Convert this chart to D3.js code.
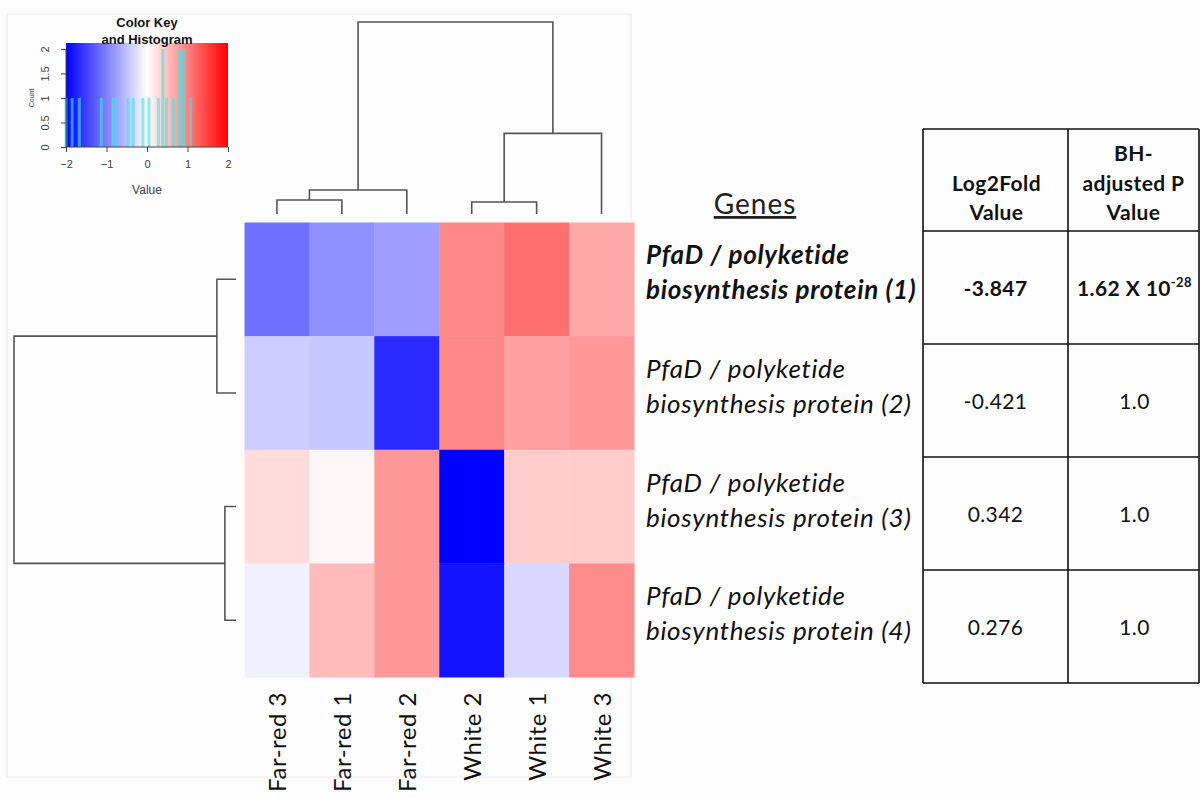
<!DOCTYPE html>
<html>
<head>
<meta charset="utf-8">
<script src="https://cdn.jsdelivr.net/npm/d3@7"></script>
<style>
  html, body { margin: 0; padding: 0; background: #fff; }
  svg { display: block; }
</style>
</head>
<body>
<div id="chart"></div>
<script>
// heatmap data (rows = genes, columns = samples, order as clustered)
const samples = ["Far-red 3", "Far-red 1", "Far-red 2", "White 2", "White 1", "White 3"];
const geneLines = [
    ["PfaD / polyketide", "biosynthesis protein (1)"],
    ["PfaD / polyketide", "biosynthesis protein (2)"],
    ["PfaD / polyketide", "biosynthesis protein (3)"],
    ["PfaD / polyketide", "biosynthesis protein (4)"]
];
const zValues = [
    [-1.12, -0.87, -0.75, 0.93, 1.12, 0.68],
    [-0.40, -0.44, -1.67, 0.93, 0.75, 0.81],
    [0.27, 0.06, 0.81, -2.0, 0.40, 0.40],
    [-0.12, 0.54, 0.81, -1.85, -0.31, 0.90]
];
const significantRow = 0;

// table values
const log2Fold = ["-3.847", "-0.421", "0.342", "0.276"];
const pAdjusted = ["1.62 X 10^-28", "1.0", "1.0", "1.0"];

// colour key histogram (value, count)
const histValues = [-2.0, -1.85, -1.67, -1.13, -0.84, -0.76, -0.47, -0.34, -0.10, 0.05, 0.28, 0.39, 0.48, 0.65, 0.80, 0.90, 1.08];
const histCounts = [1, 1, 1, 1, 1, 1, 1, 1, 1, 1, 1, 2, 1, 1, 2, 2, 1];
const keyTicksX = [-2, -1, 0, 1, 2];
const keyTicksY = [0, 0.5, 1, 1.5, 2];

// dendrograms: leaves are sample / row indexes, h = merge height (relative)
const colTree = { h: 1, children: [
    { h: 0.125, children: [{ h: 0.073, children: [0, 1] }, 2] },
    { h: 0.42, children: [{ h: 0.0625, children: [3, 4] }, 5] }
]};
const rowTree = { h: 1, children: [
    { h: 0.086, children: [0, 1] },
    { h: 0.05, children: [2, 3] }
]};

const width = 1200, height = 798;
const svg = d3.select("#chart").append("svg")
    .attr("width", width)
    .attr("height", height)
    .style("font-family", "Lato, 'Open Sans', sans-serif");

svg.append("rect").attr("width", width).attr("height", height).attr("fill", "#fdfdfd");

// faint frame round the R plot area
svg.append("rect")
    .attr("x", 7).attr("y", 14).attr("width", 624).attr("height", 763)
    .attr("fill", "none").attr("stroke", "#eeeeee");

const x = d3.scaleBand().domain(d3.range(samples.length)).range([244.5, 634]);
const y = d3.scaleBand().domain(d3.range(geneLines.length)).range([222.5, 677]);
const color = d3.scaleLinear().domain([-2, 0, 2]).range(["#0000ff", "#ffffff", "#ff0000"]);

// heatmap cells
const cells = zValues.flatMap((row, i) => row.map((v, j) => ({ i, j, v })));
svg.append("g").selectAll("rect")
    .data(cells)
    .join("rect")
    .attr("x", d => x(d.j))
    .attr("y", d => y(d.i))
    .attr("width", x.bandwidth() + 0.5)
    .attr("height", y.bandwidth() + 0.5)
    .attr("fill", d => color(d.v));

// column labels
svg.append("g").selectAll("text")
    .data(samples)
    .join("text")
    .attr("transform", (d, j) => `translate(${x(j) + x.bandwidth() / 2 + 9},692) rotate(-90)`)
    .attr("text-anchor", "end")
    .attr("fill", "#111")
    .style("font-size", "24px")
    .style("letter-spacing", "0.5px")
    .text(d => d);

// dendrogram helper
function drawDendro(tree, leafPos, heightScale, vertical) {
    const root = d3.hierarchy(tree, d => (typeof d === "object" ? d.children : null));
    root.eachAfter(n => {
        if (!n.children) { n.pos = leafPos(n.data); n.hh = 0; }
        else { n.pos = d3.mean(n.children, c => c.pos); n.hh = n.data.h; }
    });
    const paths = root.descendants().filter(n => n.children).map(n => {
        const [a, b] = n.children;
        const hn = heightScale(n.hh), ha = heightScale(a.hh), hb = heightScale(b.hh);
        if (vertical) return `M${a.pos},${ha}V${hn}H${b.pos}V${hb}`;
        return `M${ha},${a.pos}H${hn}V${b.pos}H${hb}`;
    });
    svg.append("g").selectAll("path")
        .data(paths)
        .join("path")
        .attr("d", d => d)
        .attr("fill", "none")
        .attr("stroke", "#555")
        .attr("stroke-width", 1.6);
}

const colH = d3.scaleLinear().domain([0, 1]).range([214, 22]);
drawDendro(colTree, j => x(j) + x.bandwidth() / 2, colH, true);
const rowH = d3.scaleLinear().domain([0, 1]).range([236, 14]);
drawDendro(rowTree, i => y(i) + y.bandwidth() / 2, rowH, false);

// gene labels
svg.append("text")
    .attr("x", 755).attr("y", 214)
    .attr("text-anchor", "middle")
    .attr("fill", "#222")
    .style("font-size", "28px")
    .style("letter-spacing", "1px")
    .style("text-decoration", "underline")
    .text("Genes");

const geneG = svg.append("g").selectAll("text")
    .data(geneLines)
    .join("text")
    .attr("x", 646)
    .attr("fill", "#111")
    .style("font-size", "26px")
    .style("letter-spacing", "0.7px")
    .style("font-style", "italic")
    .style("font-weight", (d, i) => i === significantRow ? "bold" : "normal");
geneG.append("tspan")
    .attr("x", 646)
    .attr("y", (d, i) => y(i) + y.bandwidth() / 2 - 15)
    .text(d => d[0]);
geneG.append("tspan")
    .attr("x", 646)
    .attr("y", (d, i) => y(i) + y.bandwidth() / 2 + 20)
    .text(d => d[1]);

// table
const tableX = [923, 1068, 1199];
const tableRows = d3.scaleBand().domain(d3.range(log2Fold.length)).range([231, 683]);
const tableTop = 129;
const tg = svg.append("g");
tableX.forEach(tx => tg.append("line")
    .attr("x1", tx).attr("x2", tx).attr("y1", tableTop).attr("y2", 683)
    .attr("stroke", "#111").attr("stroke-width", 1.6));
[tableTop, ...log2Fold.map((d, i) => tableRows(i)), 683].forEach(ty => tg.append("line")
    .attr("x1", tableX[0]).attr("x2", tableX[2]).attr("y1", ty).attr("y2", ty)
    .attr("stroke", "#111").attr("stroke-width", 1.6));

const c1 = (tableX[0] + tableX[1]) / 2, c2 = (tableX[1] + tableX[2]) / 2;
[["Log2Fold", 191], ["Value", 220]].forEach(([t, ty]) => tg.append("text")
    .attr("x", c1 + 1).attr("y", ty).attr("text-anchor", "middle")
    .style("font-size", "21px").style("letter-spacing", "0.4px")
    .style("font-weight", "bold").attr("fill", "#111").text(t));
[["BH-", 161], ["adjusted P", 191], ["Value", 220]].forEach(([t, ty]) => tg.append("text")
    .attr("x", c2).attr("y", ty).attr("text-anchor", "middle")
    .style("font-size", "21px").style("letter-spacing", "0.4px")
    .style("font-weight", "bold").attr("fill", "#111").text(t));

log2Fold.forEach((v, i) => {
    const ty = tableRows(i) + tableRows.bandwidth() / 2 + 8;
    const weight = i === significantRow ? "bold" : "normal";
    tg.append("text")
        .attr("x", c1).attr("y", ty).attr("text-anchor", "middle")
        .style("font-size", "21px").style("letter-spacing", "0.4px")
        .style("font-weight", weight).attr("fill", "#111").text(v);
    const [base, exp] = pAdjusted[i].split("^");
    const t = tg.append("text")
        .attr("x", c2 + 1).attr("y", ty).attr("text-anchor", "middle")
        .style("font-size", "21px").style("letter-spacing", "0.4px")
        .style("font-weight", weight).attr("fill", "#111");
    t.append("tspan").text(base);
    if (exp) t.append("tspan").attr("dy", -9).style("font-size", "13px").text(exp);
});

// colour key and histogram
const keyX = d3.scaleLinear().domain([-2, 2]).range([66, 228]);
const keyY = d3.scaleLinear().domain([0, 2.12]).range([147, 43]);
const kg = svg.append("g").style("font-family", "'Liberation Sans', Arial, sans-serif");

const grad = svg.append("defs").append("linearGradient")
    .attr("id", "keyGradient").attr("x1", "0%").attr("x2", "100%");
d3.range(0, 1.0001, 0.05).forEach(t => grad.append("stop")
    .attr("offset", `${t * 100}%`)
    .attr("stop-color", color(-2 + 4 * t)));

kg.append("rect")
    .attr("x", keyX(-2)).attr("y", keyY(2.12))
    .attr("width", keyX(2) - keyX(-2)).attr("height", keyY(0) - keyY(2.12))
    .attr("fill", "url(#keyGradient)");

kg.append("g").selectAll("line")
    .data(histValues)
    .join("line")
    .attr("x1", d => keyX(d)).attr("x2", d => keyX(d))
    .attr("y1", keyY(0))
    .attr("y2", (d, i) => keyY(histCounts[i]))
    .attr("stroke", "#3ee6e6")
    .attr("stroke-opacity", 0.6)
    .attr("stroke-width", 3);

// axes in R style: line only spans the ticks
const xAxis = kg.append("g").attr("transform", `translate(0,${keyY(0)})`)
    .call(d3.axisBottom(keyX).tickValues(keyTicksX).tickFormat(d3.format("d")).tickSize(5).tickPadding(8));
xAxis.select(".domain").remove();
xAxis.append("line").attr("x1", keyX(-2)).attr("x2", keyX(2)).attr("stroke", "#444");
xAxis.selectAll(".tick line").attr("stroke", "#444");
xAxis.selectAll("text").style("font-size", "11px").attr("fill", "#444").attr("font-family", null);

const yAxis = kg.append("g").attr("transform", `translate(${keyX(-2)},0)`)
    .call(d3.axisLeft(keyY).tickValues(keyTicksY).tickFormat(d => d).tickSize(5));
yAxis.select(".domain").remove();
yAxis.append("line").attr("y1", keyY(0)).attr("y2", keyY(2)).attr("stroke", "#444");
yAxis.selectAll(".tick line").attr("stroke", "#444");
yAxis.selectAll("text")
    .attr("x", 0).attr("dy", null)
    .attr("transform", "translate(-20,0) rotate(-90)")
    .attr("text-anchor", "middle")
    .attr("dominant-baseline", "middle")
    .attr("font-family", null)
    .style("font-size", "11px").attr("fill", "#444");

kg.append("text")
    .attr("transform", `translate(34,${keyY(1)}) rotate(-90)`)
    .attr("text-anchor", "middle")
    .style("font-size", "7px").attr("fill", "#444")
    .text("Count");
kg.append("text")
    .attr("x", keyX(0)).attr("y", 194)
    .attr("text-anchor", "middle")
    .style("font-size", "12px").attr("fill", "#444")
    .text("Value");
kg.append("text")
    .attr("x", keyX(0)).attr("y", 27)
    .attr("text-anchor", "middle")
    .style("font-size", "13px").style("font-weight", "bold").attr("fill", "#111")
    .text("Color Key");
kg.append("text")
    .attr("x", keyX(0)).attr("y", 44)
    .attr("text-anchor", "middle")
    .style("font-size", "13px").style("font-weight", "bold").attr("fill", "#111")
    .text("and Histogram");
</script>
</body>
</html>
